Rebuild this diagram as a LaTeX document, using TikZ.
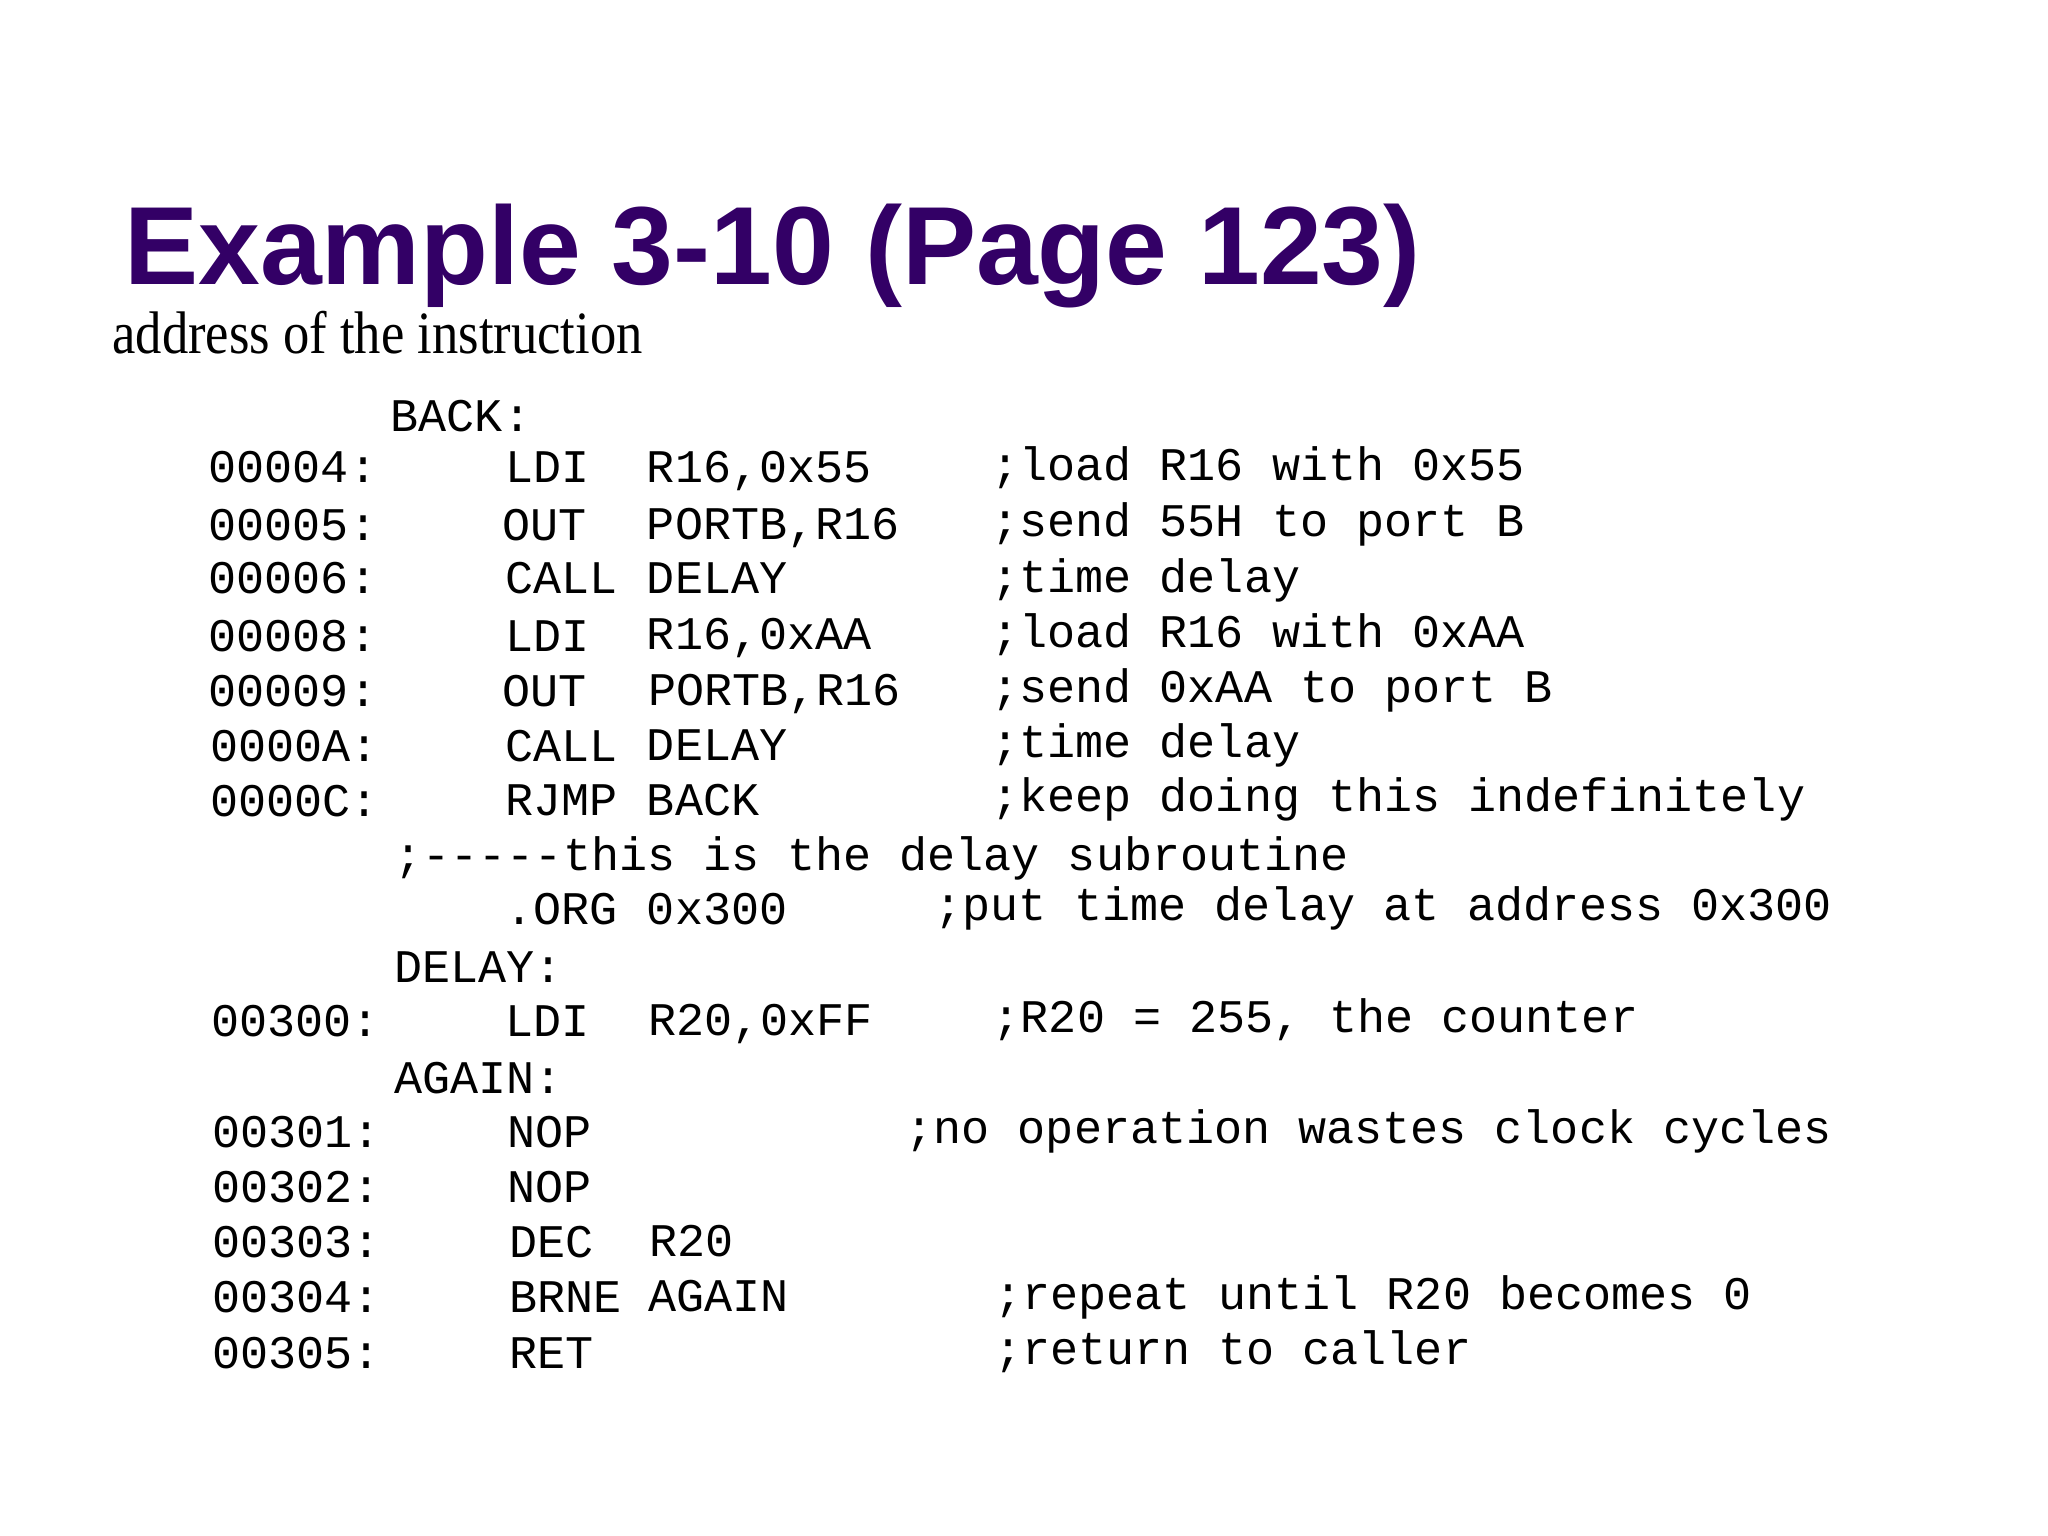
\documentclass[tikz,border=0pt]{standalone}
\usepackage{fontspec}
\setmainfont{Liberation Serif}
\newfontfamily\titlefont{Liberation Sans}
\newfontfamily\codefont{Liberation Mono}
\definecolor{ttl}{HTML}{330066}
\begin{document}
\begin{tikzpicture}[x=0.013005cm,y=-0.01316cm,
  cd/.style={anchor=base west,inner sep=0pt,font=\codefont\fontsize{13.3}{15}\selectfont}]
\useasboundingbox (0,0) rectangle (1575,1167);
\node[anchor=base west,inner sep=0pt,text=ttl,font=\titlefont\bfseries\fontsize{31.6}{38}\selectfont] (title) at (95,216) {Example 3-10 (Page 123)};
\node[anchor=base west,inner sep=0pt] (sub) at (86,269) {\resizebox{5.30cm}{0.423cm}{address of the instruction}};
% labels
\node[cd] (l1) at (300,328) {BACK:};
\node[cd] (l2) at (303,662) {;-----this is the delay subroutine};
\node[cd] (l3) at (303,747) {DELAY:};
\node[cd] (l4) at (303,831) {AGAIN:};
% rows
\node[cd] (a1) at (160,367) {00004:};
\node[cd] (m1) at (388,367) {LDI};
\node[cd] (o1) at (497,367) {R16,0x55};
\node[cd] (c1) at (762,365) {;load R16 with 0x55};
\node[cd] (a2) at (160,411) {00005:};
\node[cd] (m2) at (386,411) {OUT};
\node[cd] (o2) at (497,410) {PORTB,R16};
\node[cd] (c2) at (762,408) {;send 55H to port B};
\node[cd] (a3) at (160,451) {00006:};
\node[cd] (m3) at (388,451) {CALL};
\node[cd] (o3) at (497,451) {DELAY};
\node[cd] (c3) at (762,450) {;time delay};
\node[cd] (a4) at (160,495) {00008:};
\node[cd] (m4) at (388,495) {LDI};
\node[cd] (o4) at (497,494) {R16,0xAA};
\node[cd] (c4) at (762,492) {;load R16 with 0xAA};
\node[cd] (a5) at (160,537) {00009:};
\node[cd] (m5) at (386,537) {OUT};
\node[cd] (o5) at (498,536) {PORTB,R16};
\node[cd] (c5) at (762,534) {;send 0xAA to port B};
\node[cd] (a6) at (161,579) {0000A:};
\node[cd] (m6) at (388,579) {CALL};
\node[cd] (o6) at (497,578) {DELAY};
\node[cd] (c6) at (762,576) {;time delay};
\node[cd] (a7) at (161,621) {0000C:};
\node[cd] (m7) at (388,620) {RJMP};
\node[cd] (o7) at (497,620) {BACK};
\node[cd] (c7) at (762,617) {;keep doing this indefinitely};
\node[cd] (m8) at (388,703) {.ORG};
\node[cd] (o8) at (497,703) {0x300};
\node[cd] (c8) at (718,700) {;put time delay at address 0x300};
\node[cd] (a9) at (162,788) {00300:};
\node[cd] (m9) at (388,788) {LDI};
\node[cd] (o9) at (498,787) {R20,0xFF};
\node[cd] (c9) at (763,785) {;R20 = 255, the counter};
\node[cd] (a10) at (163,872) {00301:};
\node[cd] (m10) at (390,872) {NOP};
\node[cd] (c10) at (696,869) {;no operation wastes clock cycles};
\node[cd] (a11) at (163,914) {00302:};
\node[cd] (m11) at (390,914) {NOP};
\node[cd] (a12) at (163,956) {00303:};
\node[cd] (m12) at (391,956) {DEC};
\node[cd] (o12) at (499,955) {R20};
\node[cd] (a13) at (163,998) {00304:};
\node[cd] (m13) at (391,998) {BRNE};
\node[cd] (o13) at (498,997) {AGAIN};
\node[cd] (c13) at (764,995) {;repeat until R20 becomes 0};
\node[cd] (a14) at (163,1040) {00305:};
\node[cd] (m14) at (391,1040) {RET};
\node[cd] (c14) at (764,1037) {;return to caller};
\end{tikzpicture}
\end{document}
